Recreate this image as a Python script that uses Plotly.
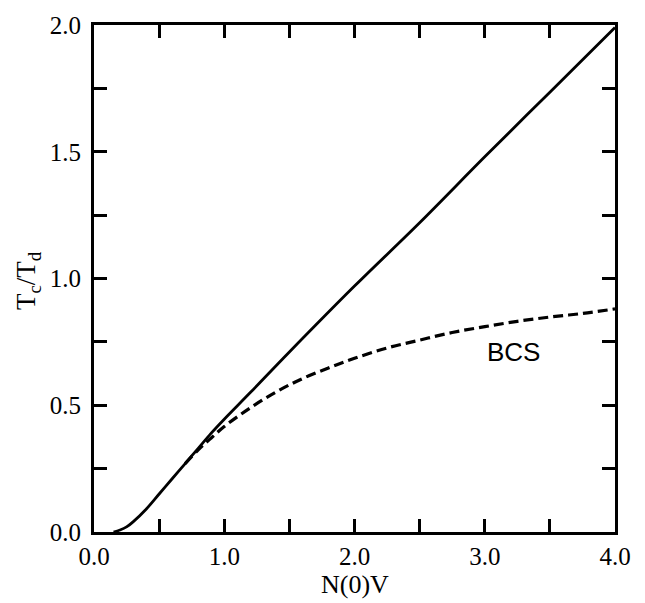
import plotly.graph_objects as go

# Coupling strength N(0)V and reduced transition temperature Tc/Td
nv_full = [0.15, 0.20, 0.25, 0.30, 0.40, 0.50, 0.60, 0.70, 0.80, 0.90,
           1.00, 1.20, 1.50, 2.00, 2.50, 3.00, 3.50, 4.00]
tc_full = [0.000, 0.008, 0.020, 0.040, 0.090, 0.150, 0.210, 0.270, 0.330, 0.390,
           0.445, 0.550, 0.710, 0.970, 1.220, 1.480, 1.735, 1.990]

# Weak-coupling BCS result
nv_bcs = [0.70, 0.80, 0.90, 1.00, 1.20, 1.40, 1.60, 1.80, 2.00, 2.25,
          2.50, 2.75, 3.00, 3.25, 3.50, 3.75, 4.00]
tc_bcs = [0.270, 0.324, 0.371, 0.416, 0.490, 0.553, 0.605, 0.647, 0.685, 0.726,
          0.757, 0.787, 0.810, 0.831, 0.848, 0.862, 0.880]

x_ticks = [0, 1, 2, 3, 4]
x_labels = ["0.0", "1.0", "2.0", "3.0", "4.0"]
y_ticks = [0, 0.5, 1.0, 1.5, 2.0]
y_labels = ["0.0", "0.5", "1.0", "1.5", "2.0"]

serif = "Liberation Serif, Times New Roman, serif"

W, H = 645, 603
M_L, M_R, M_T, M_B = 94, 30, 14, 71
plot_w = W - M_L - M_R
plot_h = H - M_T - M_B

fig = go.Figure()
fig.add_trace(go.Scatter(x=nv_bcs, y=tc_bcs, mode="lines", line_shape="spline",
                         line=dict(color="black", width=3.2, dash="10px,5px"),
                         showlegend=False))
fig.add_trace(go.Scatter(x=nv_full, y=tc_full, mode="lines", line_shape="spline",
                         line=dict(color="black", width=2.8),
                         showlegend=False))

axis_common = dict(
    showgrid=False, zeroline=False,
    showline=True, linecolor="black", linewidth=3, mirror="ticks",
    ticks="inside", ticklen=13, tickwidth=2.5, tickcolor="black",
    tickfont=dict(family=serif, size=25, color="black"),
)

fig.update_xaxes(range=[0, 4], tickvals=x_ticks, ticktext=x_labels,
                 minor=dict(dtick=0.5, tick0=0, ticks="inside", ticklen=13,
                            tickwidth=2.5, tickcolor="black"),
                 **axis_common)
fig.update_yaxes(range=[0, 2], tickvals=y_ticks, ticktext=y_labels,
                 ticklabelstandoff=5,
                 minor=dict(dtick=0.25, tick0=0, ticks="inside", ticklen=13,
                            tickwidth=2.5, tickcolor="black"),
                 **axis_common)

# x-axis title, centred below the tick labels
fig.add_annotation(text="N(0)V", x=0.5, xref="paper",
                   y=-(586 - (H - M_B)) / plot_h, yref="paper",
                   xanchor="center", yanchor="middle", showarrow=False,
                   font=dict(family=serif, size=26, color="black"))
# y-axis title, rotated
fig.add_annotation(text="T<sub>c</sub>/T<sub>d</sub>", textangle=-90,
                   x=(28 - M_L) / plot_w, xref="paper", y=0.495, yref="paper",
                   xanchor="center", yanchor="middle", showarrow=False,
                   font=dict(family=serif, size=27, color="black"))
fig.add_annotation(text="BCS", x=3.22, y=0.71, xanchor="center", yanchor="middle",
                   showarrow=False,
                   font=dict(family="Liberation Sans, Arial, sans-serif", size=26,
                             color="black"))

fig.update_layout(
    width=W, height=H,
    margin=dict(l=M_L, r=M_R, t=M_T, b=M_B),
    paper_bgcolor="white", plot_bgcolor="white",
)

fig.write_html("out.html")
